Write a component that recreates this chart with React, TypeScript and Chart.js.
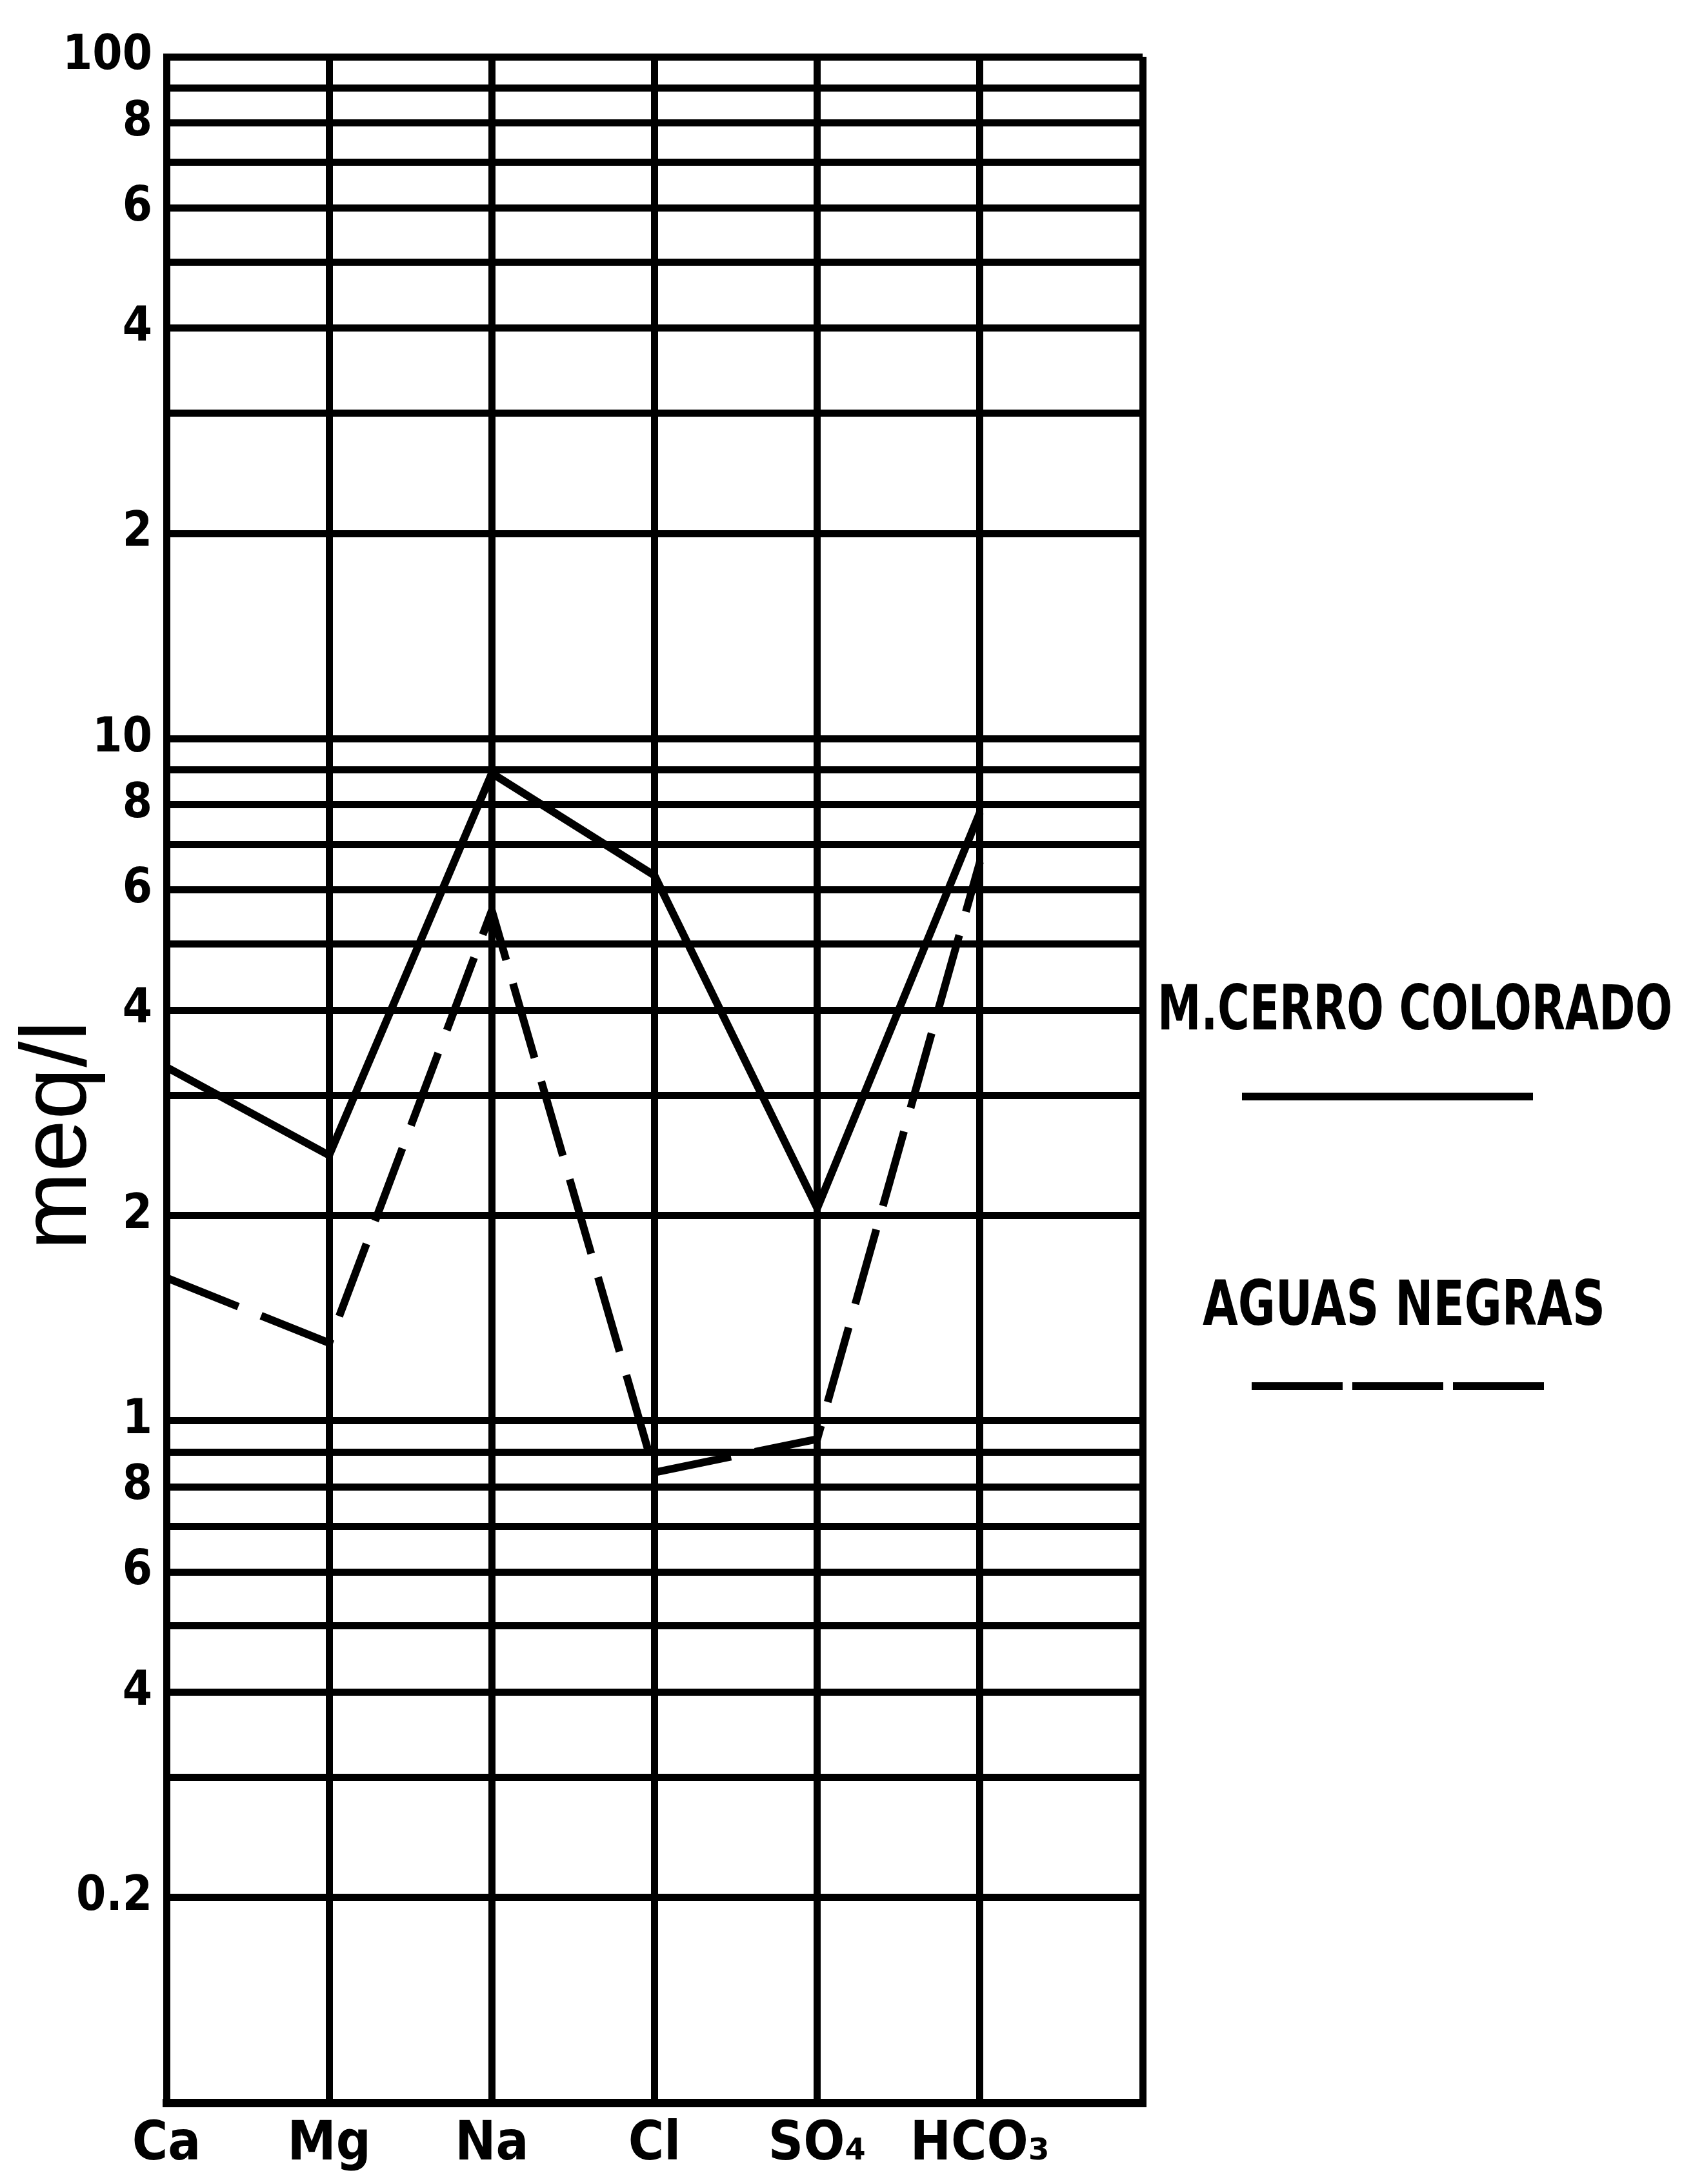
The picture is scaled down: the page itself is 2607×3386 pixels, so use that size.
import React, { useEffect, useRef } from "react";
import { Chart, registerables } from "chart.js";

Chart.register(...registerables);

// ---------- data ----------
const categories = ["Ca", "Mg", "Na", "Cl", "SO₄", "HCO₃"];
const cerroColorado = [3.3, 2.45, 8.9, 6.3, 2.05, 7.8];
const aguasNegras = [1.62, 1.3, 5.6, 0.84, 0.94, 6.6];
const seriesNames = ["M.CERRO COLORADO", "AGUAS NEGRAS"];
const yAxisTitle = "meq/l";

// grid lines of the log paper
const yGridValues = [
  0.1, 0.2, 0.3, 0.4, 0.5, 0.6, 0.7, 0.8, 0.9,
  1, 2, 3, 4, 5, 6, 7, 8, 9,
  10, 20, 30, 40, 50, 60, 70, 80, 90, 100,
];
// which grid lines carry a label, and the label printed
const yLabeledValues = [100, 80, 60, 40, 20, 10, 8, 6, 4, 2, 1, 0.8, 0.6, 0.4, 0.2];
const yLabelTexts = ["100", "8", "6", "4", "2", "10", "8", "6", "4", "2", "1", "8", "6", "4", "0.2"];
const xGridValues = [0, 1, 2, 3, 4, 5, 6];

const CANVAS_W = 2591;
const CANVAS_H = 3370;
const NARROW = '"Liberation Sans Narrow", "DejaVu Sans Condensed", "Liberation Sans", sans-serif';

function drawSpacedText(ctx: CanvasRenderingContext2D, text: string, x: number, y: number, target: number) {
  const natural = ctx.measureText(text).width;
  const anyCtx = ctx as any;
  if (natural < target && "letterSpacing" in anyCtx && text.length > 1) {
    const s = (target - natural) / (text.length - 1);
    anyCtx.letterSpacing = s + "px";
    ctx.fillText(text, x, y);
    anyCtx.letterSpacing = "0px";
  } else {
    ctx.fillText(text, x, y, target);
  }
}

const overlayPlugin = {
  id: "overlay",
  afterDraw(chart: any) {
    const ctx: CanvasRenderingContext2D = chart.ctx;
    const ds = chart.data.datasets;
    // y axis title
    ctx.save();
    ctx.fillStyle = "#000";
    ctx.translate(125, 1752);
    ctx.rotate(-Math.PI / 2);
    ctx.font = '145px "Liberation Sans", Arial, sans-serif';
    ctx.textAlign = "left";
    ctx.textBaseline = "alphabetic";
    drawSpacedText(ctx, yAxisTitle, -178, 0, 356);
    ctx.restore();

    // legend
    ctx.save();
    ctx.fillStyle = "#000";
    ctx.font = "bold 96px " + NARROW;
    ctx.textAlign = "left";
    ctx.textBaseline = "alphabetic";
    drawSpacedText(ctx, seriesNames[0], 1786, 1588, 798);
    drawSpacedText(ctx, seriesNames[1], 1856, 2046, 624);

    ctx.strokeStyle = ds[0].borderColor;
    ctx.lineWidth = ds[0].borderWidth;
    ctx.lineCap = "butt";
    ctx.setLineDash([]);
    ctx.beginPath();
    ctx.moveTo(1917, 1692);
    ctx.lineTo(2368, 1692);
    ctx.stroke();

    ctx.strokeStyle = ds[1].borderColor;
    ctx.lineWidth = ds[1].borderWidth;
    ctx.setLineDash([141, 15]);
    ctx.beginPath();
    ctx.moveTo(1932, 2141);
    ctx.lineTo(2385, 2141);
    ctx.stroke();
    ctx.restore();
  },
};

function yLabelFor(v: number): string {
  for (let i = 0; i < yLabeledValues.length; i++) {
    if (Math.abs(yLabeledValues[i] - v) < 1e-9) return yLabelTexts[i];
  }
  return "";
}

export default function App() {
  const ref = useRef<HTMLCanvasElement | null>(null);

  useEffect(() => {
    const canvas = ref.current;
    if (!canvas) return;
    const chart = new Chart(canvas, {
      type: "line",
      data: {
        datasets: [
          {
            label: seriesNames[0],
            data: categories.map((_, i) => ({ x: i, y: cerroColorado[i] })),
            borderColor: "#000",
            borderWidth: 12,
            pointRadius: 0,
            tension: 0,
            fill: false,
            borderJoinStyle: "miter",
            borderCapStyle: "butt",
          },
          {
            label: seriesNames[1],
            data: categories.map((_, i) => ({ x: i, y: aguasNegras[i] })),
            borderColor: "#000",
            borderWidth: 12,
            borderDash: [120, 38],
            pointRadius: 0,
            tension: 0,
            fill: false,
            borderJoinStyle: "miter",
            borderCapStyle: "butt",
          },
        ],
      },
      options: {
        responsive: false,
        animation: false,
        devicePixelRatio: 1,
        layout: { padding: { left: 0, top: 80, right: 828, bottom: 0 } },
        plugins: { legend: { display: false }, tooltip: { enabled: false } },
        scales: {
          x: {
            type: "linear",
            min: 0,
            max: 6,
            afterBuildTicks: (s: any) => {
              s.ticks = xGridValues.map((v) => ({ value: v }));
            },
            afterFit: (s: any) => {
              s.height = 118;
            },
            ticks: {
              autoSkip: false,
              maxRotation: 0,
              padding: 16,
              color: "#000",
              font: { family: NARROW, size: 84, weight: "bold" },
              callback: (v: any) => categories[Number(v)] ?? "",
            },
            grid: { color: "#000", lineWidth: 11, drawTicks: false },
            border: { color: "#000", width: 13 },
          },
          y: {
            type: "logarithmic",
            min: 0.1,
            max: 100,
            afterBuildTicks: (s: any) => {
              s.ticks = yGridValues.map((v) => ({ value: v }));
            },
            afterFit: (s: any) => {
              s.width = 250;
            },
            ticks: {
              autoSkip: false,
              padding: 22,
              color: "#000",
              font: { family: NARROW, size: 74, weight: "bold" },
              callback: (v: any) => yLabelFor(Number(v)),
            },
            grid: { color: "#000", lineWidth: 11, drawTicks: false },
            border: { color: "#000", width: 11 },
          },
        },
      } as any,
      plugins: [overlayPlugin],
    });
    return () => chart.destroy();
  }, []);

  return (
    <canvas
      ref={ref}
      width={CANVAS_W}
      height={CANVAS_H}
      style={{ display: "block", width: CANVAS_W + "px", height: CANVAS_H + "px" }}
    />
  );
}
